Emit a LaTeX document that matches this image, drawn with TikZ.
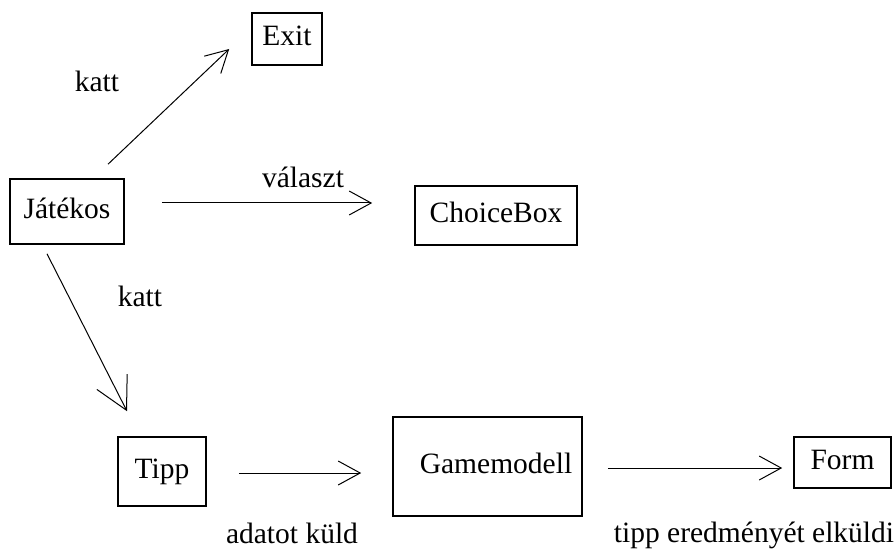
\documentclass[tikz,border=0pt]{standalone}
\usepackage{fontspec}
\setmainfont{Liberation Serif}
\usetikzlibrary{arrows.meta,calc}
\begin{document}
\begin{tikzpicture}[x=1pt,y=-1pt,
  every node/.style={font=\fontsize{29.5}{34}\selectfont},
  box/.style={draw,line width=1.6pt,inner sep=0pt,text height=20pt,text depth=6pt},
  lbl/.style={inner sep=0pt,anchor=base},
  arr/.style={line width=1pt,-{Straight Barb[length=22pt,width=24pt,line width=1pt]}},
  bigarr/.style={line width=1pt,-{Straight Barb[length=32pt,width=34pt,line width=1pt]}}]
\useasboundingbox (0,0) rectangle (896,553);
% boxes
\node[box,minimum width=70pt,minimum height=52pt] (exit) at (287,39) {Exit};
\node[box,minimum width=114pt,minimum height=65pt] (jat) at (67,211.5) {Játékos};
\node[box,minimum width=162pt,minimum height=59pt] (choice) at (496,215.5) {ChoiceBox};
\node[box,minimum width=88pt,minimum height=69pt] (tipp) at (162,471.5) {Tipp};
\node[box,minimum width=189pt,minimum height=99pt] (game) at (487.5,466.5) {\hspace*{17pt}Gamemodell};
\node[box,minimum width=97pt,minimum height=51pt] (form) at (842.5,462.5) {Form};
% labels
\node[lbl] (l1) at (97,92) {katt};
\node[lbl] (l2) at (303,188) {választ};
\node[lbl] (l3) at (140,306) {katt};
\node[lbl] (l4) at (292,543) {adatot küld};
\node[lbl] (l5) at (754,542) {tipp eredményét elküldi};
% connectors
\draw[arr] ($(jat.north)+(41,-14)$) -- ($(exit.west)+(-22,10)$);
\draw[arr] ($(jat.east)+(37,-8.5)$) -- ($(choice.west)+(-42,-12.5)$);
\draw[bigarr] ($(jat.south)+(-20,9)$) -- ($(tipp.north)+(-35,-25)$);
\draw[arr] ($(tipp.east)+(32,1.5)$) -- ($(game.west)+(-31,6.5)$);
\draw[arr] ($(game.east)+(25,1.5)$) -- ($(form.west)+(-11,5.5)$);
\end{tikzpicture}
\end{document}
